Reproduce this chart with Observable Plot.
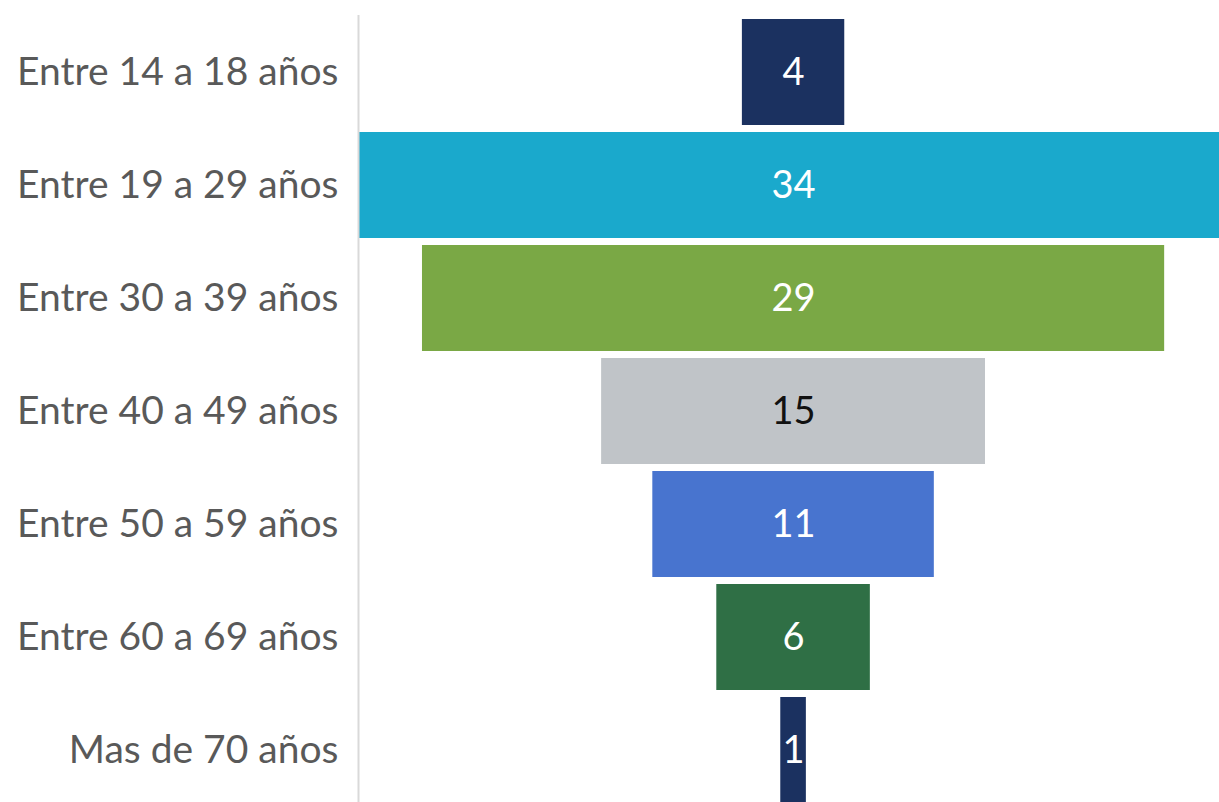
<!DOCTYPE html>
<html><head><meta charset="utf-8">
<script src="https://cdn.jsdelivr.net/npm/d3@7"></script>
<script src="https://cdn.jsdelivr.net/npm/@observablehq/plot@0.6"></script>
<style>html,body{margin:0;padding:0;background:#fff;overflow:hidden}</style>
</head><body><div id="chart"></div>
<script>
const categories = ["Entre 14 a 18 años","Entre 19 a 29 años","Entre 30 a 39 años","Entre 40 a 49 años","Entre 50 a 59 años","Entre 60 a 69 años","Mas de 70 años"];
const values = [4, 34, 29, 15, 11, 6, 1];
const barColors = ["#1b3160","#1aa9cc","#7aa845","#c0c4c8","#4874cf","#2f6f45","#1b3160"];
const labelColors = ["#ffffff","#ffffff","#ffffff","#111111","#ffffff","#ffffff","#ffffff"];

const data = categories.map((c, i) => ({category: c, value: values[i], color: barColors[i], labelColor: labelColors[i]}));
const half = d3.max(values) / 2;

const chart = Plot.plot({
  width: 1219,
  height: 802,
  marginLeft: 358,
  marginRight: 0,
  marginTop: 15,
  marginBottom: 0,
  style: {fontFamily: "Lato, 'Open Sans', sans-serif", background: "#fff"},
  x: {domain: [-half, half * 0.979], axis: null},
  y: {domain: categories, range: [14.5, 807], paddingInner: 0.06, paddingOuter: 0.03, label: null},
  color: {type: "identity"},
  marks: [
    Plot.barX(data, {x1: d => -d.value / 2, x2: d => d.value / 2, y: "category", fill: "color", clip: true}),
    Plot.ruleX([-half], {stroke: "#d9d9d9", strokeWidth: 2}),
    Plot.axisY({tickSize: 0, tickPadding: 20, fontSize: 39, fill: "#595959", label: null}),
    Plot.text(data, {x: 0, y: "category", text: d => String(d.value), fill: "labelColor", fontSize: 38})
  ]
});
document.getElementById("chart").appendChild(chart);
</script>
</body></html>
